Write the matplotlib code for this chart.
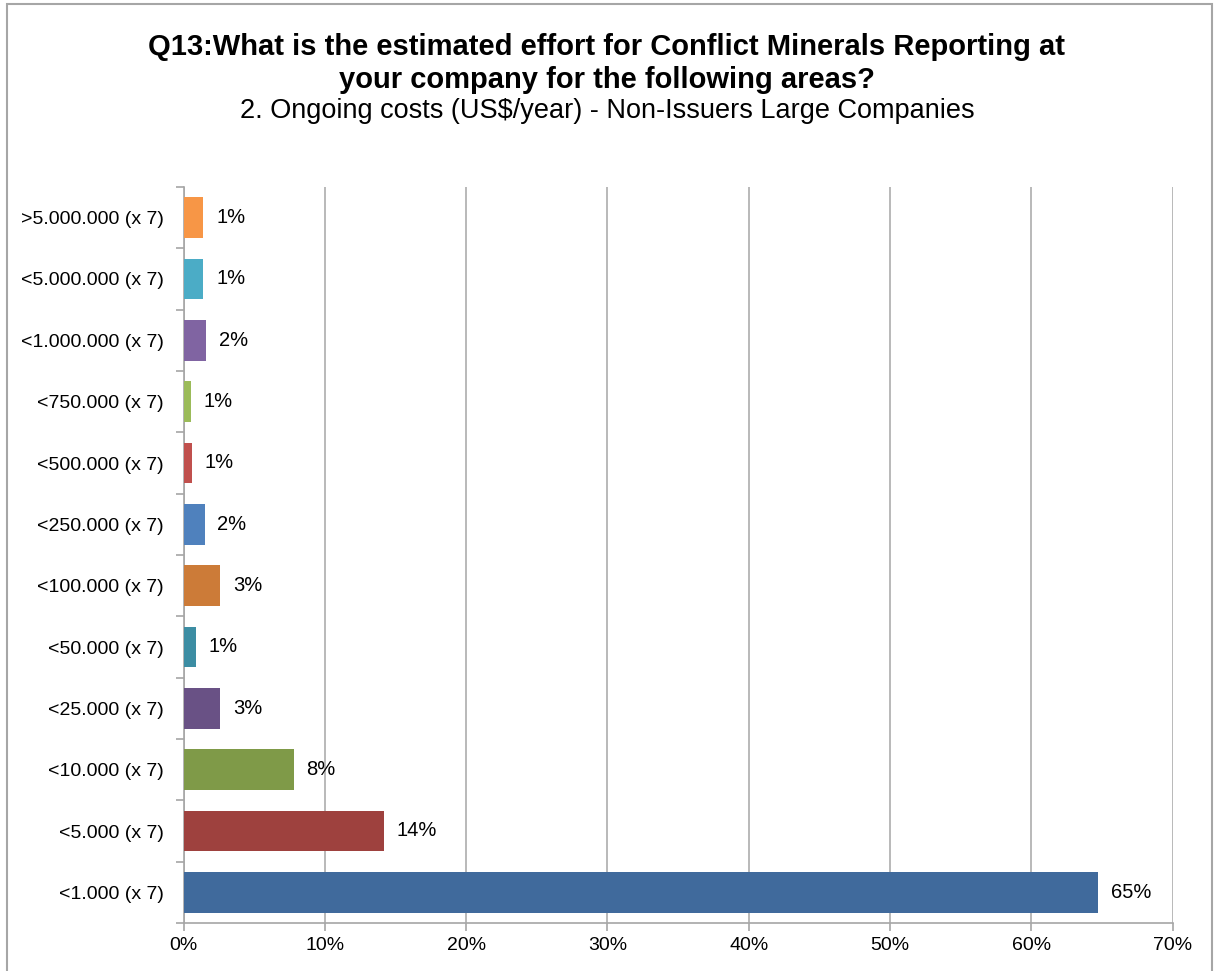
import matplotlib.pyplot as plt
from matplotlib.patches import Rectangle
from matplotlib.ticker import FixedLocator, PercentFormatter

plt.rcParams['font.family'] = ['Liberation Sans', 'DejaVu Sans']

categories = ['<1.000 (x 7)', '<5.000 (x 7)', '<10.000 (x 7)', '<25.000 (x 7)',
              '<50.000 (x 7)', '<100.000 (x 7)', '<250.000 (x 7)', '<500.000 (x 7)',
              '<750.000 (x 7)', '<1.000.000 (x 7)', '<5.000.000 (x 7)', '>5.000.000 (x 7)']
shares = [64.7, 14.2, 7.8, 2.6, 0.9, 2.6, 1.5, 0.6, 0.55, 1.6, 1.4, 1.4]
colors = ['#406A9C', '#9E413E', '#7F9A48', '#695185', '#3C8DA3', '#CC7B38',
          '#4F81BD', '#C0504D', '#9BBB59', '#8064A2', '#4BACC6', '#F79646']

fig = plt.figure(figsize=(12.14, 9.71), dpi=100)
ax = fig.add_axes([183.5 / 1214, 1 - 923 / 971, (1172.7 - 183.5) / 1214, (923 - 187) / 971])

ypos = range(len(categories))
ax.barh(ypos, shares, height=0.66, color=colors, zorder=3)
for y, v in zip(ypos, shares):
    ax.text(v + 0.9, y, '%.0f%%' % v, va='center', ha='left', fontsize=14.5)

ax.set_xlim(0, 70)
ax.set_ylim(-0.5, len(categories) - 0.5)
ax.set_xticks(range(0, 71, 10))
ax.xaxis.set_major_formatter(PercentFormatter(decimals=0))
ax.set_yticks(list(ypos))
ax.set_yticklabels(categories)
ax.yaxis.set_minor_locator(FixedLocator([i - 0.5 for i in range(len(categories) + 1)]))
ax.tick_params(axis='y', which='major', length=0, pad=14, labelsize=14)
ax.tick_params(axis='y', which='minor', length=6, color='#A6A6A6', width=1.2)
ax.tick_params(axis='x', length=6, color='#A6A6A6', width=1.2, labelsize=14, pad=4)
ax.grid(axis='x', color='#B3B3B3', linewidth=1.3, zorder=0)
for side in ['top', 'right']:
    ax.spines[side].set_visible(False)
for side in ['left', 'bottom']:
    ax.spines[side].set_color('#A6A6A6')
    ax.spines[side].set_linewidth(1.2)

fig.text(0.5, 1 - 47 / 971, 'Q13:What is the estimated effort for Conflict Minerals Reporting at',
         ha='center', va='center', fontsize=21, fontweight='bold')
fig.text(0.5, 1 - 80 / 971, 'your company for the following areas?',
         ha='center', va='center', fontsize=21, fontweight='bold')
fig.text(0.5, 1 - 111 / 971, '2. Ongoing costs (US$/year) - Non-Issuers Large Companies',
         ha='center', va='center', fontsize=19.5)

# chart border
fig.patches.append(Rectangle((7 / 1214, -0.01), (1212 - 7) / 1214, 1.01 - 4 / 971,
                             transform=fig.transFigure, fill=False,
                             edgecolor='#A6A6A6', linewidth=1.5))

fig.savefig('out.png', dpi=100)
